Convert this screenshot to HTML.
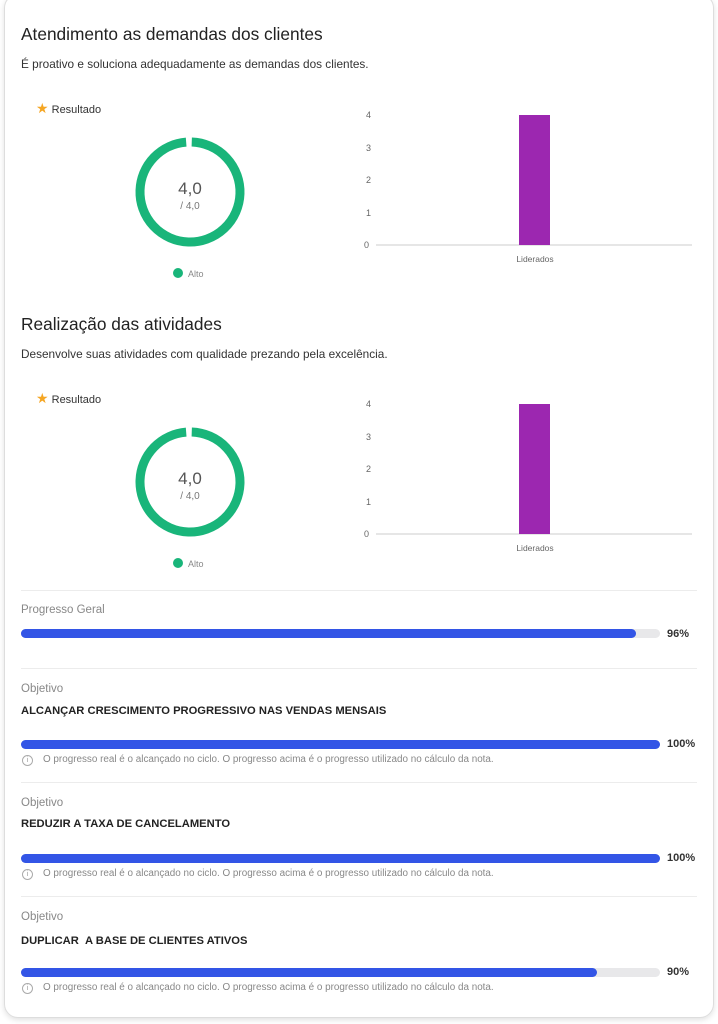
<!DOCTYPE html>
<html><head><meta charset="utf-8"><style>
body{margin:0;width:718px;height:1024px;background:#fff;font-family:"Liberation Sans",sans-serif;position:relative;overflow:hidden}
.card{position:absolute;left:4px;top:-6px;width:708px;height:1022px;border:1px solid #ddd;border-radius:14px;box-shadow:0 2px 6px rgba(0,0,0,.12)}
.a{position:absolute;white-space:nowrap}
.h{font-size:17.3px;color:#222}
.d{font-size:11.8px;color:#333}
.res{font-size:11px;color:#333}
.lbl{font-size:11.5px;color:#888}
.ttl{font-size:11.2px;font-weight:bold;color:#222}
.pb{position:absolute;left:21px;width:639px;height:9px;border-radius:5px;background:#e8e8ea}
.pb i{position:absolute;left:0;top:0;bottom:0;background:#3355e6;border-radius:5px}
.pct{font-size:11px;color:#333;font-weight:bold}
.note{font-size:9.9px;color:#888}
.ic{position:absolute;width:9px;height:9px;border:1px solid #aaa;border-radius:50%;font-size:7px;color:#999;text-align:center;line-height:9px}
.hr{position:absolute;left:21px;width:676px;height:1px;background:#ececec}
</style></head><body>
<div class="card"></div>

<div class="a h" style="left:21px;top:24px">Atendimento as demandas dos clientes</div>
<div class="a d" style="left:21px;top:57px">É proativo e soluciona adequadamente as demandas dos clientes.</div>
<div class="a res" style="left:36px;top:100px"><span style="color:#f5a623;font-size:14px">★</span> Resultado</div>

<div class="a h" style="left:21px;top:314px">Realização das atividades</div>
<div class="a d" style="left:21px;top:347px">Desenvolve suas atividades com qualidade prezando pela excelência.</div>
<div class="a res" style="left:36px;top:390px"><span style="color:#f5a623;font-size:14px">★</span> Resultado</div>

<svg class="a" style="left:0;top:0" width="718" height="600">
<g font-family="Liberation Sans" >
<g id="g1">
<circle cx="190" cy="192" r="50" fill="none" stroke="#19b57a" stroke-width="9" stroke-dasharray="308 6" transform="rotate(-88 190 192)"/>
<text x="190" y="194" font-size="17" fill="#555" text-anchor="middle">4,0</text>
<text x="190" y="209" font-size="10" fill="#777" text-anchor="middle">/ 4,0</text>
<circle cx="178" cy="273" r="5" fill="#19b57a"/><text x="188" y="277" font-size="9" fill="#888">Alto</text>
</g>
<g font-size="9" fill="#666">
<line x1="376" y1="245" x2="692" y2="245" stroke="#ccc"/>
<text x="366" y="118">4</text><text x="366" y="151">3</text><text x="366" y="183">2</text><text x="366" y="216">1</text><text x="364" y="248">0</text>
<rect x="519" y="115" width="31" height="130" fill="#9c27b0"/>
<text x="535" y="262" text-anchor="middle" font-size="8.5">Liderados</text>
</g>
<g transform="translate(0,290)">
<circle cx="190" cy="192" r="50" fill="none" stroke="#19b57a" stroke-width="9" stroke-dasharray="308 6" transform="rotate(-88 190 192)"/>
<text x="190" y="194" font-size="17" fill="#555" text-anchor="middle">4,0</text>
<text x="190" y="209" font-size="10" fill="#777" text-anchor="middle">/ 4,0</text>
<circle cx="178" cy="273" r="5" fill="#19b57a"/><text x="188" y="277" font-size="9" fill="#888">Alto</text>
<g font-size="9" fill="#666">
<line x1="376" y1="244" x2="692" y2="244" stroke="#ccc"/>
<text x="366" y="117">4</text><text x="366" y="150">3</text><text x="366" y="182">2</text><text x="366" y="215">1</text><text x="364" y="247">0</text>
<rect x="519" y="114" width="31" height="130" fill="#9c27b0"/>
<text x="535" y="261" text-anchor="middle" font-size="8.5">Liderados</text>
</g></g>
</g></svg>

<div class="hr" style="top:590px"></div>
<div class="a lbl" style="left:21px;top:604px">Progresso Geral</div>
<div class="pb" style="top:629px"><i style="width:615px"></i></div>
<div class="a pct" style="left:667px;top:628px">96%</div>

<div class="hr" style="top:668px"></div>
<div class="a lbl" style="left:21px;top:683px">Objetivo</div>
<div class="a ttl" style="left:21px;top:705px">ALCANÇAR CRESCIMENTO PROGRESSIVO NAS VENDAS MENSAIS</div>
<div class="pb" style="top:740px"><i style="width:639px"></i></div>
<div class="a pct" style="left:667px;top:738px">100%</div>
<div class="ic" style="left:22px;top:755px">i</div>
<div class="a note" style="left:43px;top:754px">O progresso real é o alcançado no ciclo. O progresso acima é o progresso utilizado no cálculo da nota.</div>

<div class="hr" style="top:782px"></div>
<div class="a lbl" style="left:21px;top:797px">Objetivo</div>
<div class="a ttl" style="left:21px;top:818px">REDUZIR A TAXA DE CANCELAMENTO</div>
<div class="pb" style="top:854px"><i style="width:639px"></i></div>
<div class="a pct" style="left:667px;top:852px">100%</div>
<div class="ic" style="left:22px;top:869px">i</div>
<div class="a note" style="left:43px;top:868px">O progresso real é o alcançado no ciclo. O progresso acima é o progresso utilizado no cálculo da nota.</div>

<div class="hr" style="top:896px"></div>
<div class="a lbl" style="left:21px;top:911px">Objetivo</div>
<div class="a ttl" style="left:21px;top:935px">DUPLICAR &nbsp;A BASE DE CLIENTES ATIVOS</div>
<div class="pb" style="top:968px"><i style="width:576px"></i></div>
<div class="a pct" style="left:667px;top:966px">90%</div>
<div class="ic" style="left:22px;top:983px">i</div>
<div class="a note" style="left:43px;top:982px">O progresso real é o alcançado no ciclo. O progresso acima é o progresso utilizado no cálculo da nota.</div>
</body></html>
